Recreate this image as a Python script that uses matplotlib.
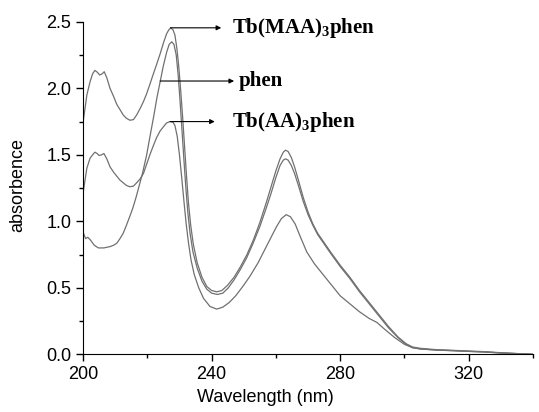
import matplotlib
matplotlib.use("Agg")
import matplotlib.pyplot as plt
from matplotlib.ticker import MultipleLocator

# -----------------------------
# Data
# -----------------------------
maa_x = [200.0, 201.2, 202.2, 203.0, 203.7, 204.5, 205.2, 206.0, 206.6, 207.4, 208.4, 209.5,
         210.5, 211.5, 212.5, 213.5, 214.6, 215.7, 216.7, 217.8, 218.8, 219.8, 220.8, 221.9,
         222.9, 224.0, 225.0, 226.0, 226.7, 227.3, 228.0, 228.6, 229.2, 229.8, 230.4, 231.0,
         231.6, 232.2, 232.8, 233.5, 234.3, 235.5, 237.0, 238.5, 240.0, 241.6, 243.2, 245.0,
         247.0, 249.0, 251.0, 253.0, 255.0, 257.0, 258.5, 260.0, 261.3, 262.3, 263.0, 263.8,
         264.8, 265.8, 267.0, 268.5, 270.0, 271.5, 273.0, 275.0, 277.0, 280.0, 283.0, 286.0,
         289.0, 292.0, 295.0, 298.0, 300.5, 302.5, 305.0, 310.0, 315.0, 320.0, 325.0, 330.0,
         335.0, 340.0]
maa_y = [1.74, 1.95, 2.05, 2.11, 2.135, 2.12, 2.10, 2.11, 2.125, 2.08, 2.00, 1.94,
         1.88, 1.84, 1.80, 1.775, 1.76, 1.765, 1.80, 1.85, 1.90, 1.96, 2.03, 2.11,
         2.18, 2.26, 2.34, 2.41, 2.44, 2.455, 2.44, 2.40, 2.30, 2.16, 1.98, 1.78,
         1.56, 1.34, 1.14, 0.97, 0.83, 0.69, 0.58, 0.51, 0.48, 0.47, 0.48, 0.52,
         0.58, 0.66, 0.75, 0.86, 0.99, 1.14, 1.26, 1.38, 1.47, 1.52, 1.535, 1.525,
         1.48, 1.41, 1.31, 1.18, 1.07, 0.98, 0.91, 0.84, 0.77, 0.67, 0.58, 0.48,
         0.39, 0.30, 0.21, 0.13, 0.08, 0.055, 0.045, 0.035, 0.03, 0.025, 0.02, 0.012,
         0.006, 0.0]

phen_x = [200.0, 200.8, 201.5, 202.3, 203.5, 204.8, 206.5, 208.4, 209.5, 210.5, 211.5, 212.5,
          213.5, 214.6, 215.5, 216.5, 217.5, 218.5, 219.8, 221.0, 222.0, 223.0, 224.0, 225.0,
          226.0, 226.8, 227.6, 228.3, 229.0, 229.6, 230.2, 230.8, 231.4, 232.0, 232.6, 233.3,
          234.2, 235.5, 237.0, 238.5, 240.0, 241.8, 243.5, 245.2, 247.0, 249.0, 251.0, 253.0,
          255.0, 257.0, 258.5, 260.0, 261.3, 262.3, 263.0, 263.8, 264.8, 265.8, 267.0, 268.5,
          270.0, 271.5, 273.0, 275.0, 277.0, 280.0, 283.0, 286.0, 289.0, 292.0, 295.0, 298.0,
          300.5, 302.5, 305.0, 310.0, 315.0, 320.0, 325.0, 330.0, 335.0, 340.0]
phen_y = [0.92, 0.87, 0.88, 0.86, 0.82, 0.80, 0.80, 0.81, 0.82, 0.835, 0.87, 0.91,
          0.97, 1.04, 1.10, 1.18, 1.27, 1.36, 1.50, 1.66, 1.79, 1.93, 2.05, 2.17,
          2.27, 2.33, 2.35, 2.33, 2.25, 2.10, 1.90, 1.68, 1.46, 1.25, 1.07, 0.91,
          0.77, 0.65, 0.55, 0.49, 0.46, 0.45, 0.46, 0.50, 0.56, 0.64, 0.73, 0.84,
          0.96, 1.10, 1.21, 1.33, 1.42, 1.46, 1.47, 1.46, 1.42, 1.36, 1.27, 1.15,
          1.05, 0.97, 0.90, 0.83, 0.76, 0.66, 0.57, 0.47, 0.38, 0.29, 0.20, 0.125,
          0.075, 0.05, 0.04, 0.032, 0.028, 0.022, 0.018, 0.01, 0.005, 0.0]

aa_x = [200.0, 201.2, 202.2, 203.0, 203.7, 204.4, 205.0, 205.8, 206.5, 207.4, 208.4, 209.5,
        210.5, 211.5, 212.5, 213.5, 214.6, 215.7, 216.7, 217.8, 218.8, 219.8, 220.8, 221.9,
        222.9, 224.0, 225.0, 226.0, 227.1, 228.0, 228.6, 229.3, 230.0, 230.7, 231.4, 232.1,
        232.8, 233.6, 234.6, 236.0, 237.5, 239.5, 241.6, 243.5, 245.5, 247.5, 250.0, 252.0,
        254.5, 256.6, 258.5, 260.2, 261.7, 263.2, 264.5, 266.0, 267.5, 269.6, 272.0, 275.0,
        278.0, 280.0, 283.0, 286.0, 289.0, 291.4, 294.0, 297.0, 300.0, 302.5, 305.0, 310.0,
        315.0, 320.0, 325.0, 330.0, 335.0, 340.0]
aa_y = [1.21, 1.40, 1.475, 1.50, 1.52, 1.51, 1.495, 1.50, 1.51, 1.47, 1.41, 1.37,
        1.34, 1.31, 1.29, 1.27, 1.26, 1.265, 1.29, 1.32, 1.36, 1.43, 1.50, 1.57,
        1.63, 1.68, 1.71, 1.74, 1.75, 1.745, 1.72, 1.64, 1.50, 1.33, 1.15, 0.98,
        0.84, 0.71, 0.60, 0.50, 0.42, 0.36, 0.34, 0.355, 0.39, 0.44, 0.52, 0.59,
        0.69, 0.79, 0.88, 0.96, 1.02, 1.05, 1.035, 0.98, 0.89, 0.77, 0.68, 0.59,
        0.50, 0.44, 0.38, 0.32, 0.27, 0.24, 0.185, 0.125, 0.075, 0.05, 0.04, 0.032,
        0.027, 0.022, 0.017, 0.01, 0.005, 0.0]

labels = ["Tb(MAA)$_3$phen", "phen", "Tb(AA)$_3$phen"]
# arrow start (on curve), arrow end, text anchor (data coords)
arrow_start = [(227.2, 2.455), (224.0, 2.055), (227.1, 1.75)]
arrow_end = [(243.0, 2.455), (247.0, 2.055), (241.0, 1.75)]
text_pos = [(246.5, 2.455), (248.3, 2.055), (246.5, 1.75)]

# -----------------------------
# Plot
# -----------------------------
plt.rcParams['font.family'] = ['Liberation Sans', 'DejaVu Sans']
plt.rcParams['mathtext.fontset'] = 'custom'
plt.rcParams['mathtext.rm'] = 'Liberation Serif:bold'
plt.rcParams['mathtext.it'] = 'Liberation Serif:bold'
plt.rcParams['mathtext.bf'] = 'Liberation Serif:bold'

fig = plt.figure(figsize=(5.39, 4.12), dpi=100)
ax = fig.add_axes([0.154, 0.140, 0.835, 0.807])

line_kw = dict(color='#707070', linewidth=0.9)
ax.plot(maa_x, maa_y, **line_kw)
ax.plot(phen_x, phen_y, **line_kw)
ax.plot(aa_x, aa_y, **line_kw)

for lab, s, e, t in zip(labels, arrow_start, arrow_end, text_pos):
    ax.annotate('', xy=e, xytext=s,
                arrowprops=dict(arrowstyle='-|>', color='black', lw=0.8,
                                mutation_scale=7, shrinkA=0, shrinkB=0))
    ax.text(t[0], t[1], lab, family='Liberation Serif', fontweight='bold',
            fontsize=15, va='center', ha='left')

ax.set_xlim(200, 340)
ax.set_ylim(0, 2.5)
ax.xaxis.set_major_locator(MultipleLocator(40))
ax.xaxis.set_minor_locator(MultipleLocator(20))
ax.yaxis.set_major_locator(MultipleLocator(0.5))
ax.yaxis.set_minor_locator(MultipleLocator(0.25))
ax.tick_params(which='major', direction='out', length=5, width=1, labelsize=13)
ax.tick_params(which='minor', direction='out', length=3, width=1)

ax.spines['top'].set_visible(False)
ax.spines['right'].set_visible(False)

ax.set_xlabel("Wavelength (nm)", fontsize=13)
ax.set_ylabel("absorbence", fontsize=13)
ax.xaxis.set_label_coords(0.405, -0.105)
ax.yaxis.set_label_coords(-0.125, 0.51)

fig.savefig("out.png", dpi=100)
